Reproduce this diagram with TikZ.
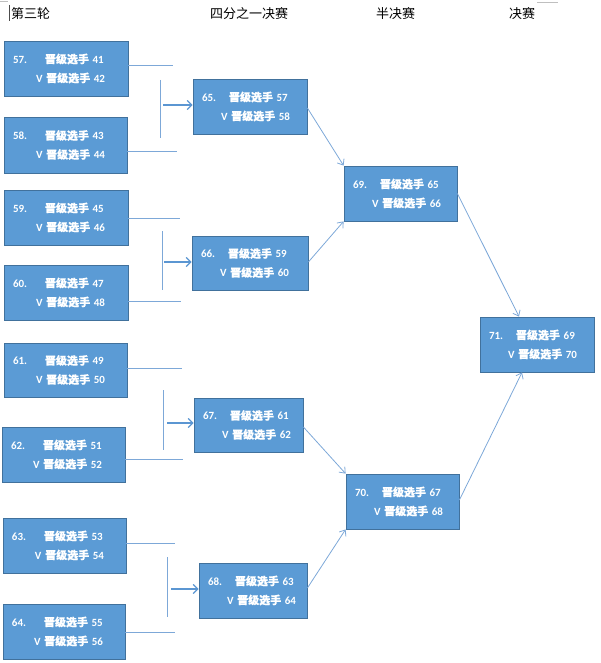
\documentclass[tikz,border=0pt]{standalone}
\usepackage{fontspec}
\setmainfont{Carlito}
\newfontfamily\cjk{Noto Sans CJK SC}
\newfontfamily\cjkb[FakeBold=0.4]{Noto Sans CJK SC}
\usetikzlibrary{arrows.meta}
\definecolor{boxfill}{RGB}{91,155,213}
\definecolor{boxline}{RGB}{65,113,156}
\definecolor{connc}{RGB}{125,168,216}
\definecolor{arrc}{RGB}{91,150,210}
\newcommand\mtext[5]{\makebox[#4][l]{#1.}{\cjkb 晋级选手} #2\\\hspace*{#5}V {\cjkb 晋级选手} #3}
\tikzset{
  matchbox/.style={draw=boxline, fill=boxfill, line width=0.8pt, text=white,
    font=\fontsize{11}{19}\selectfont\bfseries, align=left, inner xsep=9pt, inner ysep=0pt},
  conn/.style={draw=connc, line width=1pt},
  harrow/.style={draw=arrc, line width=1.8pt, -{Straight Barb[length=4.5pt,width=9pt,line width=1.3pt]}},
  darrow/.style={draw=connc, line width=0.8pt, -{Straight Barb[length=5pt,width=8pt,line width=0.8pt]}},
  header/.style={font=\cjk\fontsize{13}{13}\selectfont, text=black, inner sep=0pt},
  stray/.style={draw=black!25, line width=0.8pt}
}
\begin{document}
\begin{tikzpicture}[x=1pt,y=-1pt]
\useasboundingbox (0,0) rectangle (600,663);
% headers
\node[header, anchor=west] (h1) at (11,14) {第三轮};
\node[header] (h2) at (249,14) {四分之一决赛};
\node[header] (h3) at (395.5,14) {半决赛};
\node[header] (h4) at (522,14) {决赛};
% stray marks
\coordinate (s1) at (0,1); \coordinate (s2) at (8,1);
\draw[stray] (s1) -- (s2);
\coordinate (s3) at (9.5,5); \coordinate (s4) at (9.5,21);
\draw[draw=black!70, line width=0.8pt] (s3) -- (s4);
\coordinate (s5) at (537,2); \coordinate (s6) at (558,2);
\draw[stray] (s5) -- (s6);
% round 3
\node[matchbox, text width=106pt, minimum height=55pt] (m57) at (66,68.5) {\mtext{57}{41}{42}{32pt}{23pt}};
\node[matchbox, text width=105pt, minimum height=56pt] (m58) at (65.5,145) {\mtext{58}{43}{44}{32pt}{23pt}};
\node[matchbox, text width=106pt, minimum height=55pt] (m59) at (66,217.5) {\mtext{59}{45}{46}{32pt}{23pt}};
\node[matchbox, text width=106pt, minimum height=55pt] (m60) at (66,292.5) {\mtext{60}{47}{48}{32pt}{23pt}};
\node[matchbox, text width=105pt, minimum height=54pt] (m61) at (65.5,370) {\mtext{61}{49}{50}{32pt}{23pt}};
\node[matchbox, text width=105pt, minimum height=55pt] (m62) at (63.5,454.5) {\mtext{62}{51}{52}{32pt}{22pt}};
\node[matchbox, text width=105pt, minimum height=55pt] (m63) at (64.5,545.5) {\mtext{63}{53}{54}{32pt}{23pt}};
\node[matchbox, text width=104pt, minimum height=55pt] (m64) at (64,631.5) {\mtext{64}{55}{56}{32pt}{22pt}};
% quarter finals
\node[matchbox, text width=96pt, minimum height=55pt] (m65) at (250,106.5) {\mtext{65}{57}{58}{27pt}{19pt}};
\node[matchbox, text width=98pt, minimum height=54pt] (m66) at (250,263) {\mtext{66}{59}{60}{27pt}{19pt}};
\node[matchbox, text width=91pt, minimum height=54pt] (m67) at (248.5,425) {\mtext{67}{61}{62}{27pt}{19pt}};
\node[matchbox, text width=90pt, minimum height=55pt] (m68) at (253,590.5) {\mtext{68}{63}{64}{27pt}{19pt}};
% semi finals
\node[matchbox, text width=95pt, minimum height=55pt] (m69) at (400.5,193.5) {\mtext{69}{65}{66}{27pt}{19pt}};
\node[matchbox, text width=95pt, minimum height=55pt] (m70) at (402.5,501.5) {\mtext{70}{67}{68}{27pt}{19pt}};
% final
\node[matchbox, text width=96pt, minimum height=55pt] (m71) at (537,344.5) {\mtext{71}{69}{70}{27pt}{19pt}};
% bracket lines: pair 57/58
\coordinate (e57) at (173,66); \coordinate (e58) at (177,152);
\draw[conn] (m57.east |- e57) -- (e57);
\draw[conn] (m58.east |- e58) -- (e58);
\coordinate (v1a) at (160,80); \coordinate (v1b) at (160,138);
\draw[conn] (v1a) -- (v1b);
\coordinate (a1) at (163,105);
\draw[harrow] (a1) -- (m65.west |- a1);
% pair 59/60
\coordinate (e59) at (180,218); \coordinate (e60) at (181,301);
\draw[conn] (m59.east |- e59) -- (e59);
\draw[conn] (m60.east |- e60) -- (e60);
\coordinate (v2a) at (162,231); \coordinate (v2b) at (162,290);
\draw[conn] (v2a) -- (v2b);
\coordinate (a2) at (164,262);
\draw[harrow] (a2) -- (m66.west |- a2);
% pair 61/62
\coordinate (e61) at (182,368); \coordinate (e62) at (183,459);
\draw[conn] (m61.east |- e61) -- (e61);
\draw[conn] (m62.east |- e62) -- (e62);
\coordinate (v3a) at (163,390); \coordinate (v3b) at (163,450);
\draw[conn] (v3a) -- (v3b);
\coordinate (a3) at (167,423);
\draw[harrow] (a3) -- (m67.west |- a3);
% pair 63/64
\coordinate (e63) at (175,543); \coordinate (e64) at (175,632);
\draw[conn] (m63.east |- e63) -- (e63);
\draw[conn] (m64.east |- e64) -- (e64);
\coordinate (v4a) at (167,557); \coordinate (v4b) at (167,617);
\draw[conn] (v4a) -- (v4b);
\coordinate (a4) at (171,589);
\draw[harrow] (a4) -- (m68.west |- a4);
% diagonals
\draw[darrow] ([yshift=-1.5pt]m65.east) -- (m69.north west);
\draw[darrow] ([yshift=1pt]m66.east) -- (m69.south west);
\draw[darrow] ([yshift=-2pt]m67.east) -- (m70.north west);
\draw[darrow] ([yshift=2.5pt]m68.east) -- (m70.south west);
\draw[darrow] (m69.east) -- ([xshift=-18pt]m71.north);
\draw[darrow] ([yshift=1.5pt]m70.east) -- ([xshift=-15pt]m71.south);
\end{tikzpicture}
\end{document}
